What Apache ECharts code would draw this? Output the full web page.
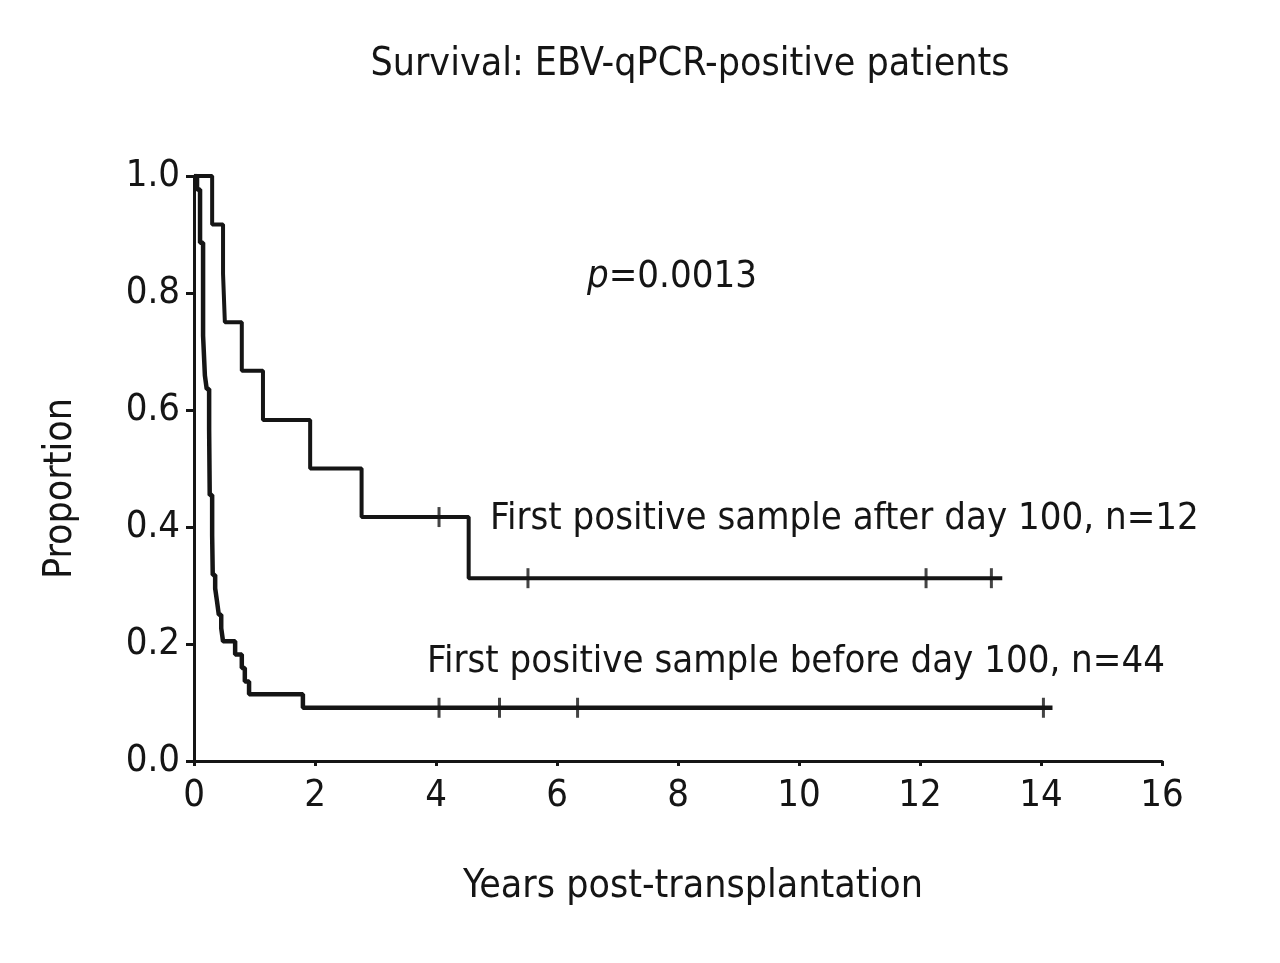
<!DOCTYPE html>
<html>
<head>
<meta charset="utf-8">
<script src="https://cdn.jsdelivr.net/npm/echarts@6/dist/echarts.min.js"></script>
<style>html,body{margin:0;padding:0;background:#fff}#c{width:1280px;height:963px}</style>
</head>
<body>
<div id="c"></div>
<script>
// Kaplan-Meier data: [years, survival after that time]
var afterDay100 = [[0,1.0],[0.30,0.917],[0.48,0.833],[0.51,0.75],[0.79,0.667],[1.14,0.583],[1.92,0.5],[2.77,0.417],[4.54,0.3125],[13.36,0.3125]];
var afterCensor = [[4.05,0.417],[5.52,0.3125],[12.1,0.3125],[13.18,0.3125]];
var beforeDay100 = [[0,1.0],[0.05,0.977],[0.10,0.886],[0.15,0.727],[0.18,0.659],[0.21,0.636],[0.25,0.568],[0.26,0.4545],[0.30,0.386],[0.31,0.318],[0.35,0.295],[0.38,0.273],[0.41,0.25],[0.45,0.227],[0.48,0.2045],[0.68,0.182],[0.79,0.159],[0.84,0.136],[0.91,0.114],[1.80,0.091],[14.19,0.091]];
var beforeCensor = [[4.05,0.091],[5.05,0.091],[6.34,0.091],[14.04,0.091]];
var xTicks = [0,2,4,6,8,10,12,14,16];
var yTicks = [0.0,0.2,0.4,0.6,0.8,1.0];
var titleText = 'Survival: EBV-qPCR-positive patients';
var xName = 'Years post-transplantation';
var yName = 'Proportion';
var labelAfter = 'First positive sample after day 100, n=12';
var labelBefore = 'First positive sample before day 100, n=44';

var FONT = '"Liberation Sans Narrow","DejaVu Sans Condensed","Liberation Sans",sans-serif';
var INK = '#151515';
var chart = echarts.init(document.getElementById('c'));
chart.setOption({
  backgroundColor: '#fff',
  animation: false,
  title: {text: titleText, left: 685, textAlign: 'center', top: 40,
    textStyle: {fontFamily: FONT, fontSize: 39, fontWeight: 'normal', color: INK}},
  grid: {left: 194, right: 118, top: 176, bottom: 202, containLabel: false},
  xAxis: {type: 'value', min: xTicks[0], max: xTicks[xTicks.length-1], interval: 2,
    name: xName, nameLocation: 'middle', nameGap: 106,
    nameTextStyle: {fontFamily: FONT, fontSize: 39, color: INK, padding: [0, 0, 0, 30]},
    axisLine: {lineStyle: {color: INK, width: 3}},
    axisTick: {show: true, length: 5, lineStyle: {color: INK, width: 3}},
    axisLabel: {fontFamily: FONT, fontSize: 38, color: INK, margin: 16},
    splitLine: {show: false}},
  yAxis: {type: 'value', min: yTicks[0], max: yTicks[yTicks.length-1], interval: 0.2,
    name: yName, nameLocation: 'middle', nameGap: 114, nameRotate: 90,
    nameTextStyle: {fontFamily: FONT, fontSize: 39, color: INK, padding: [0, 40, 0, 0]},
    axisLine: {show: true, lineStyle: {color: INK, width: 3}},
    axisTick: {show: true, length: 8, lineStyle: {color: INK, width: 3}},
    axisLabel: {fontFamily: FONT, fontSize: 38, color: INK, margin: 14,
      formatter: function(v){return v.toFixed(1);}},
    splitLine: {show: false}},
  series: [
    {type: 'line', step: 'end', data: afterDay100, showSymbol: false, symbol: 'none',
      lineStyle: {color: INK, width: 4}, z: 3},
    {type: 'line', step: 'end', data: beforeDay100, showSymbol: false, symbol: 'none',
      lineStyle: {color: INK, width: 4.5}, z: 3},
    {type: 'scatter', data: afterCensor, symbol: 'rect', symbolSize: [3, 20],
      itemStyle: {color: INK}, z: 4},
    {type: 'scatter', data: beforeCensor, symbol: 'rect', symbolSize: [3, 20],
      itemStyle: {color: INK}, z: 4}
  ],
  graphic: [
    {type: 'text', left: 587, top: 258, style: {rich: {i: {fontFamily: FONT, fontSize: 38, fontStyle: 'italic', fill: INK}, n: {fontFamily: FONT, fontSize: 38, fill: INK}}, text: '{i|p}{n|=0.0013}', fill: INK, font: '38px ' + FONT}},
    {type: 'text', left: 490, top: 500, style: {text: labelAfter, fill: INK, font: '38px ' + FONT}},
    {type: 'text', left: 427, top: 643, style: {text: labelBefore, fill: INK, font: '38px ' + FONT}}
  ]
});
</script>
</body>
</html>
